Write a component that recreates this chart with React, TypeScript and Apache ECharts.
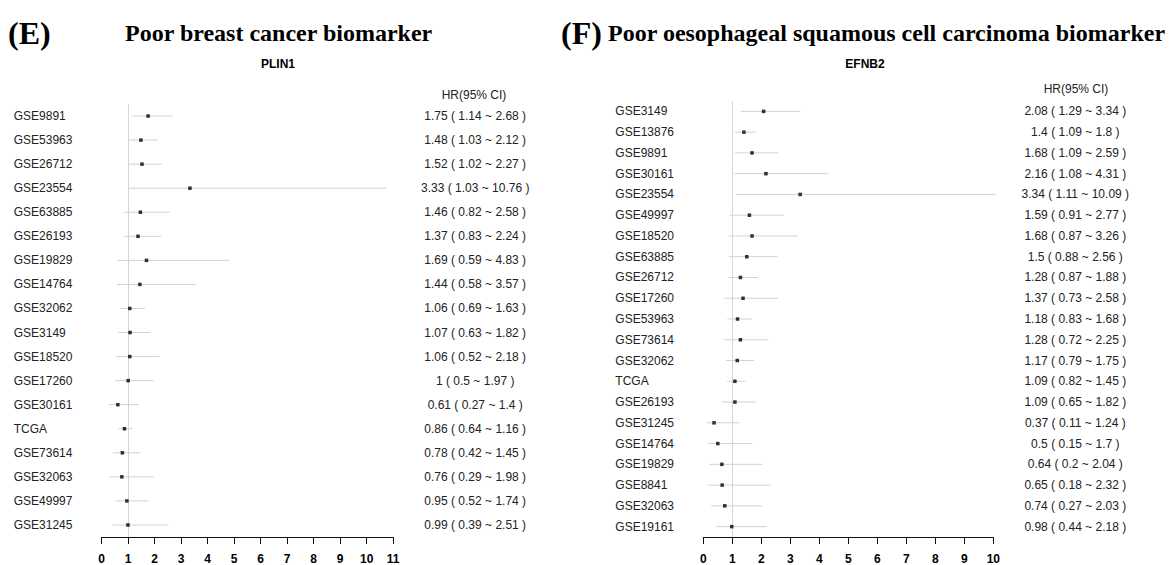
import React, { useEffect, useRef } from "react";
import * as echarts from "echarts";

// ---- Panel E: PLIN1 (breast cancer) ----
const plinNames = [
  "GSE9891", "GSE53963", "GSE26712", "GSE23554", "GSE63885", "GSE26193",
  "GSE19829", "GSE14764", "GSE32062", "GSE3149", "GSE18520", "GSE17260",
  "GSE30161", "TCGA", "GSE73614", "GSE32063", "GSE49997", "GSE31245",
];
const plinHR = [1.75, 1.48, 1.52, 3.33, 1.46, 1.37, 1.69, 1.44, 1.06, 1.07, 1.06, 1, 0.61, 0.86, 0.78, 0.76, 0.95, 0.99];
const plinLo = [1.14, 1.03, 1.02, 1.03, 0.82, 0.83, 0.59, 0.58, 0.69, 0.63, 0.52, 0.5, 0.27, 0.64, 0.42, 0.29, 0.52, 0.39];
const plinHi = [2.68, 2.12, 2.27, 10.76, 2.58, 2.24, 4.83, 3.57, 1.63, 1.82, 2.18, 1.97, 1.4, 1.16, 1.45, 1.98, 1.74, 2.51];

// ---- Panel F: EFNB2 (oesophageal squamous cell carcinoma) ----
const efnNames = [
  "GSE3149", "GSE13876", "GSE9891", "GSE30161", "GSE23554", "GSE49997",
  "GSE18520", "GSE63885", "GSE26712", "GSE17260", "GSE53963", "GSE73614",
  "GSE32062", "TCGA", "GSE26193", "GSE31245", "GSE14764", "GSE19829",
  "GSE8841", "GSE32063", "GSE19161",
];
const efnHR = [2.08, 1.4, 1.68, 2.16, 3.34, 1.59, 1.68, 1.5, 1.28, 1.37, 1.18, 1.28, 1.17, 1.09, 1.09, 0.37, 0.5, 0.64, 0.65, 0.74, 0.98];
const efnLo = [1.29, 1.09, 1.09, 1.08, 1.11, 0.91, 0.87, 0.88, 0.87, 0.73, 0.83, 0.72, 0.79, 0.82, 0.65, 0.11, 0.15, 0.2, 0.18, 0.27, 0.44];
const efnHi = [3.34, 1.8, 2.59, 4.31, 10.09, 2.77, 3.26, 2.56, 1.88, 2.58, 1.68, 2.25, 1.75, 1.45, 1.82, 1.24, 1.7, 2.04, 2.32, 2.03, 2.18];

const plinTicksMax = 11;
const efnTicksMax = 10;
const refValue = 1;

const SANS = "'Liberation Sans', Arial, sans-serif";
const SERIF = "'Liberation Serif', 'Times New Roman', serif";

function hrLabels(hr: number[], lo: number[], hi: number[]) {
  return hr.map((h, i) => `${h} ( ${lo[i]} ~ ${hi[i]} )`);
}

export default function App() {
  const ref = useRef<HTMLDivElement>(null);
  useEffect(() => {
    if (!ref.current) return;
    const chart = echarts.init(ref.current, undefined, { renderer: "svg" });

    const panels = [
      { names: plinNames, hr: plinHR, lo: plinLo, hi: plinHi, max: plinTicksMax },
      { names: efnNames, hr: efnHR, lo: efnLo, hi: efnHi, max: efnTicksMax },
    ];
    const grids = [
      { left: 101.7, width: 291.5, top: 104, height: 434 },
      { left: 703.3, width: 290, top: 101, height: 436 },
    ];
    const hrOffset = 82;

    const xAxis: any[] = [];
    const yAxis: any[] = [];
    const series: any[] = [];
    panels.forEach((p, gi) => {
      const labels = hrLabels(p.hr, p.lo, p.hi);
      xAxis.push({
        type: "value", gridIndex: gi, min: 0, max: p.max, interval: 1,
        axisLine: { show: true, lineStyle: { color: "#111", width: 1 } },
        axisTick: { show: true, length: 7, lineStyle: { color: "#111" } },
        axisLabel: { fontSize: 12, fontWeight: "bold", color: "#000", fontFamily: SANS, margin: 16 },
        splitLine: { show: false },
      });
      yAxis.push({
        type: "category", gridIndex: gi, inverse: true, data: p.names,
        axisLine: { show: false }, axisTick: { show: false },
        axisLabel: { align: "left", margin: 88, fontSize: 12, color: "#222", fontFamily: SANS },
      });
      // reference line at HR = 1 (drawn beneath everything)
      series.push({
        type: "scatter", xAxisIndex: gi, yAxisIndex: gi, data: [],
        z: 1,
        markLine: {
          z: 1,
          silent: true, symbol: ["none", "none"],
          label: { show: false },
          lineStyle: { color: "#d6d6d6", type: "solid", width: 1 },
          data: [{ xAxis: refValue }],
        },
      });
      series.push({
        type: "custom", xAxisIndex: gi, yAxisIndex: gi,
        data: p.names.map((_, i) => [p.lo[i], p.hi[i], i]),
        encode: { x: [0, 1], y: 2 },
        renderItem: (params: any, api: any) => {
          const idx = api.value(2);
          const a = api.coord([api.value(0), idx]);
          const b = api.coord([api.value(1), idx]);
          const cs = params.coordSys;
          return {
            type: "group",
            children: [
              {
                type: "line",
                shape: { x1: a[0], y1: a[1], x2: b[0], y2: b[1] },
                style: { stroke: "#d2d2d2", lineWidth: 1 },
              },
              {
                type: "text",
                x: cs.x + cs.width + hrOffset,
                y: a[1],
                style: {
                  text: labels[params.dataIndex], font: `12px ${SANS}`, fill: "#222",
                  textAlign: "center", textVerticalAlign: "middle",
                },
              },
            ],
          };
        },
        z: 2,
      });
      series.push({
        type: "scatter", xAxisIndex: gi, yAxisIndex: gi,
        data: p.hr.map((h, i) => [h, i]),
        symbol: "rect", symbolSize: 3.5,
        itemStyle: { color: "#000" },
        z: 6,
      });
    });

    const text = (x: number, y: number, t: string, font: string, align = "left", fill = "#000") => ({
      type: "text", x, y,
      style: { text: t, font, fill, textAlign: align, textVerticalAlign: "middle" },
    });

    chart.setOption({
      animation: false,
      backgroundColor: "#fff",
      grid: grids,
      xAxis, yAxis, series,
      graphic: [
        text(8, 33, "(E)", `bold 32px ${SERIF}`),
        text(125, 33, "Poor breast cancer biomarker", `bold 24px ${SERIF}`),
        text(561, 33, "(F)", `bold 32px ${SERIF}`),
        text(608, 33, "Poor oesophageal squamous cell carcinoma biomarker", `bold 24px ${SERIF}`),
        text(278, 64, "PLIN1", `bold 12px ${SANS}`, "center"),
        text(865, 64, "EFNB2", `bold 12px ${SANS}`, "center"),
        text(474, 95, "HR(95% CI)", `12px ${SANS}`, "center", "#222"),
        text(1076, 89, "HR(95% CI)", `12px ${SANS}`, "center", "#222"),
      ],
    });
    return () => chart.dispose();
  }, []);
  return (
    <div
      ref={ref}
      style={{ position: "fixed", left: 0, top: 0, width: 1174, height: 565, background: "#fff" }}
    />
  );
}
